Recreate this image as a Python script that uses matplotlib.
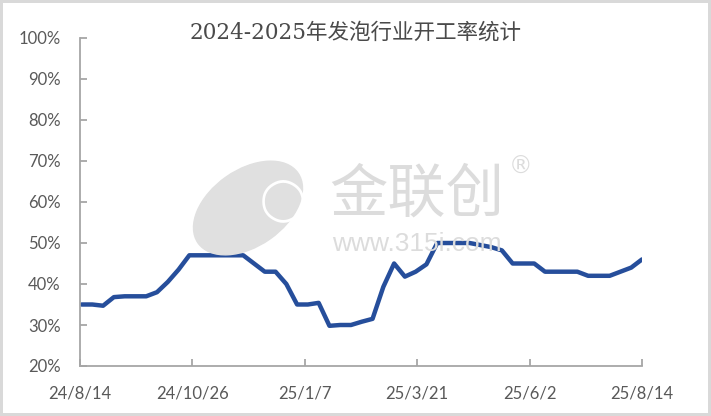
import numpy as np
import pandas as pd
import matplotlib
matplotlib.use("Agg")
import matplotlib.pyplot as plt
from matplotlib.patches import Ellipse

# weekly foam industry operating rate (%)
dates = pd.date_range("2024-08-15", "2025-08-14", freq="7D")
rates = [35, 35, 34.7, 36.8, 37, 37, 37, 38, 40.5, 43.5,
         47, 47, 47, 47, 47, 47, 45, 43, 43, 40,
         35, 35, 35.4, 29.8, 30, 30, 30.8, 31.5, 39.3, 45,
         41.8, 43, 44.8, 50, 50, 50, 50, 49.5, 49, 48.2,
         45, 45, 45, 43, 43, 43, 43, 42, 42, 42,
         43, 44, 46]
tick_dates = pd.to_datetime(["2024-08-14", "2024-10-26", "2025-01-07",
                             "2025-03-21", "2025-06-02", "2025-08-14"])
tick_labels = ["24/8/14", "24/10/26", "25/1/7", "25/3/21", "25/6/2", "25/8/14"]
yticks = np.arange(20, 101, 10)
title = "2024-2025年发泡行业开工率统计"

grey = "#595959"
axis_grey = "#a6a6a6"
wm = "#dcdcdc"

fig = plt.figure(figsize=(7.11, 4.16), dpi=100)
fig.patch.set_edgecolor("#d9d9d9")
fig.patch.set_linewidth(3)
ax = fig.add_axes([80 / 711, 50 / 416, 562 / 711, 328 / 416])
ax.set_facecolor("none")

# watermark (logo + name)
fx = lambda px: px / 711
fy = lambda py: 1 - py / 416
fig.patches.append(Ellipse((2.48, 4.16 - 2.08), 1.22, 0.76, angle=35,
                           transform=fig.dpi_scale_trans, color="#e0e0e0", zorder=0))
fig.text(fx(283), fy(201), "◯", fontsize=30, color="white", family=["DejaVu Sans"],
         ha="center", va="center", zorder=0)
fig.text(fx(417), fy(195), "金联创", fontsize=42, color=wm,
         family=["Noto Sans CJK SC"], ha="center", va="center", zorder=0)
fig.text(fx(417), fy(244), "www.315i.com", fontsize=19, color=wm,
         family=["Liberation Sans"], ha="center", va="center", zorder=0)
fig.text(fx(521), fy(167), "®", fontsize=17, color=wm,
         family=["DejaVu Sans"], ha="center", va="center", zorder=0)

ax.plot(dates, rates, color="#264e9b", linewidth=3.2,
        solid_capstyle="round", solid_joinstyle="round")

ax.set_xlim(tick_dates[0], tick_dates[-1])
ax.set_ylim(20, 100)
ax.set_xticks(tick_dates)
ax.set_xticklabels(tick_labels)
ax.set_yticks(yticks)
ax.set_yticklabels([f"{v}%" for v in yticks])

for side in ["top", "right"]:
    ax.spines[side].set_visible(False)
for side in ["left", "bottom"]:
    ax.spines[side].set_color(axis_grey)
    ax.spines[side].set_linewidth(1.3)
ax.tick_params(direction="in", length=5, width=1.3, color=axis_grey,
               labelsize=12, labelcolor=grey)
ax.tick_params(axis="y", pad=14)
ax.tick_params(axis="x", pad=14)
for lbl in ax.get_xticklabels() + ax.get_yticklabels():
    lbl.set_family(["Lato", "DejaVu Sans"])

fig.text(0.5, fy(33), title, fontsize=15.5, color="#4a4a4a", ha="center", va="center",
         family=["DejaVu Serif", "Noto Sans CJK SC"])

fig.savefig("out.png", dpi=100)
